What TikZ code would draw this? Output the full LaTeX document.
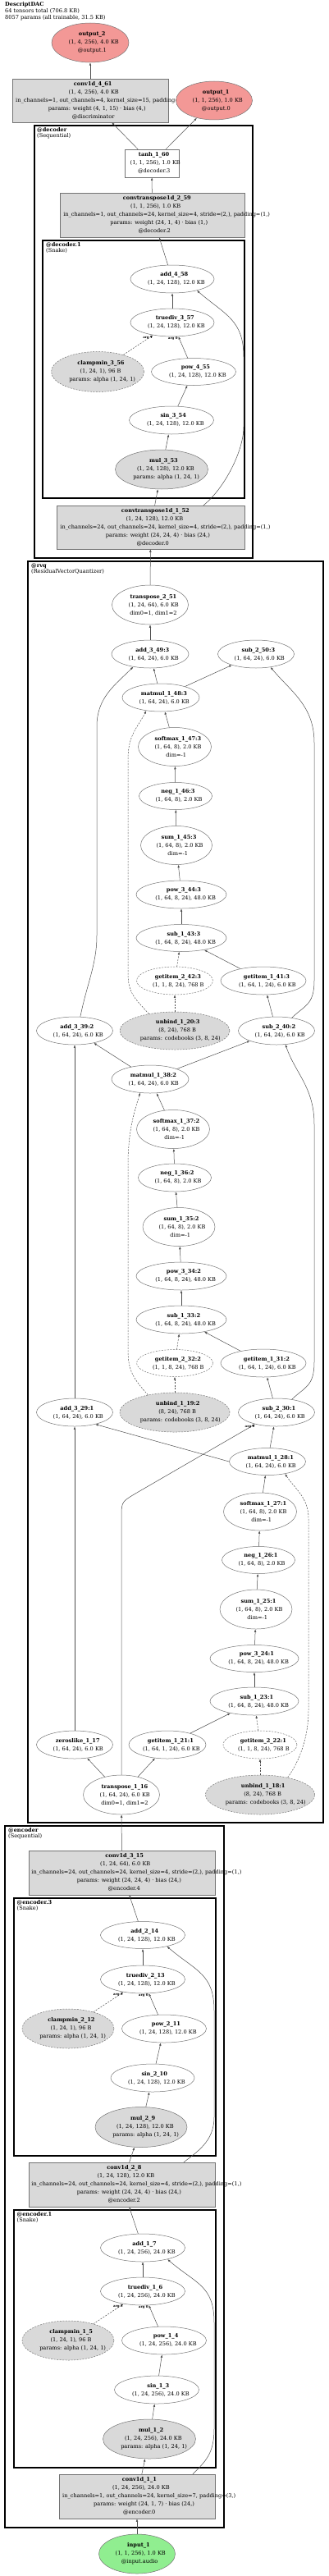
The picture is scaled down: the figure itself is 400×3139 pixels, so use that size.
\documentclass[tikz,border=0pt]{standalone}
\usepackage{fontspec}
\setmainfont{DejaVu Serif}
\usetikzlibrary{shapes.geometric,arrows.meta}
\definecolor{outred}{RGB}{243,152,150}
\definecolor{ingreen}{RGB}{144,238,144}
\definecolor{pargray}{RGB}{217,217,217}
\newcommand{\gl}[1]{\makebox[0.86\width][l]{#1}}
\newcommand{\ttl}[1]{\gl{\textbf{#1}}}
\tikzset{wh/.style 2 args={minimum width=#1,minimum height=#2}}

\begin{document}
\begin{tikzpicture}[x=1pt,y=-1pt]
\tikzstyle{opnode}=[ellipse,draw=black!55,line width=0.5pt,fill=white,inner sep=0pt,align=center,font=\fontsize{6.6}{10}\selectfont]
\tikzstyle{parnode}=[opnode,fill=pargray]
\tikzstyle{dashnode}=[dash pattern=on 2pt off 1.5pt]
\tikzstyle{boxnode}=[rectangle,draw=black!55,line width=0.5pt,fill=pargray,inner sep=0pt,align=center,font=\fontsize{6.6}{10}\selectfont]
\tikzstyle{outnode}=[opnode,fill=outred]
\tikzstyle{innode}=[opnode,fill=ingreen]
\tikzstyle{frame}=[line width=2.5pt]
\tikzstyle{subframe}=[line width=1.6pt]
\tikzstyle{framelbl}=[anchor=north west,inner sep=0pt,align=left,font=\fontsize{6.6}{7}\selectfont]
\tikzstyle{conn}=[draw=black!70,line width=0.5pt,-{Latex[length=3.5pt,width=2.6pt]}]
\tikzstyle{dconn}=[conn,dash pattern=on 2pt off 1.5pt]
\tikzstyle{argl}=[font=\fontsize{4}{4}\selectfont\bfseries,inner sep=0.5pt,anchor=north east]

\useasboundingbox (0,0) rectangle (400,3139);

\node[anchor=north west,inner sep=0pt,align=left,font=\fontsize{6.6}{7.8}\selectfont] (title) at (6,2.5) {\textbf{DescriptDAC}\\64 tensors total (706.8 KB)\\8057 params (all trainable, 31.5 KB)};

% clusters
\draw[frame] (42,153) rectangle (308,680);
\node[framelbl] (lbldec) at (45,155) {\textbf{@decoder}\\(Sequential)};
\draw[subframe] (52,293) rectangle (298,607);
\node[framelbl] (lbldec1) at (56,295) {\textbf{@decoder.1}\\(Snake)};
\draw[frame] (34,684) rectangle (394,2221);
\node[framelbl] (lblrvq) at (38,686.5) {\textbf{@rvq}\\(ResidualVectorQuantizer)};
\draw[frame] (6,2225) rectangle (273,3080);
\node[framelbl] (lblenc) at (10,2227.5) {\textbf{@encoder}\\(Sequential)};
\draw[subframe] (17,2313) rectangle (263,2627);
\node[framelbl] (lblenc3) at (20.5,2315) {\textbf{@encoder.3}\\(Snake)};
\draw[subframe] (17,2693) rectangle (263,3007);
\node[framelbl] (lblenc1) at (20.5,2695) {\textbf{@encoder.1}\\(Snake)};

% decoder
\node[outnode,wh={94}{48}] (out2) at (110,52) {\ttl{output\_2}\\\gl{(1, 4, 256), 4.0 KB}\\\gl{@output.1}};
\node[boxnode,wh={190}{53}] (conv461) at (110,122.5) {\ttl{conv1d\_4\_61}\\\gl{(1, 4, 256), 4.0 KB}\\\gl{in\_channels=1, out\_channels=4, kernel\_size=15, padding=(7,)}\\\gl{params: weight (4, 1, 15) · bias (4,)}\\\gl{@discriminator}};
\node[outnode,wh={93}{47}] (out1) at (261,122.5) {\ttl{output\_1}\\\gl{(1, 1, 256), 1.0 KB}\\\gl{@output.0}};
\node[boxnode,fill=white,wh={66}{34}] (tanh160) at (185,199) {\ttl{tanh\_1\_60}\\\gl{(1, 1, 256), 1.0 KB}\\\gl{@decoder.3}};
\node[boxnode,wh={225}{54}] (ct259) at (185.5,262) {\ttl{convtranspose1d\_2\_59}\\\gl{(1, 1, 256), 1.0 KB}\\\gl{in\_channels=1, out\_channels=24, kernel\_size=4, stride=(2,), padding=(1,)}\\\gl{params: weight (24, 1, 4) · bias (1,)}\\\gl{@decoder.2}};
\node[opnode,wh={102}{34}] (add458) at (210,340) {\ttl{add\_4\_58}\\\gl{(1, 24, 128), 12.0 KB}};
\node[opnode,wh={102}{34}] (truediv357) at (210,393) {\ttl{truediv\_3\_57}\\\gl{(1, 24, 128), 12.0 KB}};
\node[parnode,dashnode,wh={113}{49}] (clampmin356) at (119,453) {\ttl{clampmin\_3\_56}\\\gl{(1, 24, 1), 96 B}\\\gl{params: alpha (1, 24, 1)}};
\node[opnode,wh={103}{33}] (pow455) at (236,453) {\ttl{pow\_4\_55}\\\gl{(1, 24, 128), 12.0 KB}};
\node[opnode,wh={103}{34}] (sin354) at (209,512) {\ttl{sin\_3\_54}\\\gl{(1, 24, 128), 12.0 KB}};
\node[parnode,wh={113}{48}] (mul353) at (197,572) {\ttl{mul\_3\_53}\\\gl{(1, 24, 128), 12.0 KB}\\\gl{params: alpha (1, 24, 1)}};
\node[boxnode,wh={229}{53}] (ct152) at (183.5,642.5) {\ttl{convtranspose1d\_1\_52}\\\gl{(1, 24, 128), 12.0 KB}\\\gl{in\_channels=24, out\_channels=24, kernel\_size=4, stride=(2,), padding=(1,)}\\\gl{params: weight (24, 24, 4) · bias (24,)}\\\gl{@decoder.0}};

% rvq
\node[opnode,wh={93}{48}] (transpose251) at (183,737) {\ttl{transpose\_2\_51}\\\gl{(1, 24, 64), 6.0 KB}\\\gl{dim0=1, dim1=2}};
\node[opnode,wh={94}{34}] (add349) at (183,797) {\ttl{add\_3\_49:3}\\\gl{(1, 64, 24), 6.0 KB}};
\node[opnode,wh={93}{34}] (sub250) at (312,797) {\ttl{sub\_2\_50:3}\\\gl{(1, 64, 24), 6.0 KB}};
\node[opnode,wh={94}{34}] (matmul348) at (196,850) {\ttl{matmul\_1\_48:3}\\\gl{(1, 64, 24), 6.0 KB}};
\node[opnode,wh={89}{47}] (softmax347) at (213,910) {\ttl{softmax\_1\_47:3}\\\gl{(1, 64, 8), 2.0 KB}\\\gl{dim=-1}};
\node[opnode,wh={89}{33}] (neg346) at (214,970) {\ttl{neg\_1\_46:3}\\\gl{(1, 64, 8), 2.0 KB}};
\node[opnode,wh={87}{47}] (sum345) at (215,1030) {\ttl{sum\_1\_45:3}\\\gl{(1, 64, 8), 2.0 KB}\\\gl{dim=-1}};
\node[opnode,wh={110}{34}] (pow344) at (221,1090) {\ttl{pow\_3\_44:3}\\\gl{(1, 64, 8, 24), 48.0 KB}};
\node[opnode,wh={110}{33}] (sub143) at (221,1143) {\ttl{sub\_1\_43:3}\\\gl{(1, 64, 8, 24), 48.0 KB}};
\node[opnode,dashnode,wh={93}{34}] (getitem242) at (213,1195) {\ttl{getitem\_2\_42:3}\\\gl{(1, 1, 8, 24), 768 B}};
\node[opnode,wh={104}{34}] (getitem141) at (321,1195) {\ttl{getitem\_1\_41:3}\\\gl{(1, 64, 1, 24), 6.0 KB}};
\node[opnode,wh={93}{34}] (add339) at (91,1256) {\ttl{add\_3\_39:2}\\\gl{(1, 64, 24), 6.0 KB}};
\node[parnode,dashnode,wh={134}{46}] (unbind120) at (213,1256) {\ttl{unbind\_1\_20:3}\\\gl{(8, 24), 768 B}\\\gl{params: codebooks (3, 8, 24)}};
\node[opnode,wh={93}{34}] (sub240) at (337,1256) {\ttl{sub\_2\_40:2}\\\gl{(1, 64, 24), 6.0 KB}};
\node[opnode,wh={94}{34}] (matmul138) at (183,1315) {\ttl{matmul\_1\_38:2}\\\gl{(1, 64, 24), 6.0 KB}};
\node[opnode,wh={89}{47}] (softmax137) at (211,1376) {\ttl{softmax\_1\_37:2}\\\gl{(1, 64, 8), 2.0 KB}\\\gl{dim=-1}};
\node[opnode,wh={89}{34}] (neg136) at (213,1435) {\ttl{neg\_1\_36:2}\\\gl{(1, 64, 8), 2.0 KB}};
\node[opnode,wh={88}{47}] (sum135) at (218,1495) {\ttl{sum\_1\_35:2}\\\gl{(1, 64, 8), 2.0 KB}\\\gl{dim=-1}};
\node[opnode,wh={110}{34}] (pow334) at (221,1555) {\ttl{pow\_3\_34:2}\\\gl{(1, 64, 8, 24), 48.0 KB}};
\node[opnode,wh={110}{34}] (sub133) at (221,1608) {\ttl{sub\_1\_33:2}\\\gl{(1, 64, 8, 24), 48.0 KB}};
\node[opnode,dashnode,wh={93}{33}] (getitem232) at (213,1661) {\ttl{getitem\_2\_32:2}\\\gl{(1, 1, 8, 24), 768 B}};
\node[opnode,wh={104}{34}] (getitem131) at (321,1661) {\ttl{getitem\_1\_31:2}\\\gl{(1, 64, 1, 24), 6.0 KB}};
\node[opnode,wh={93}{34}] (add329) at (91,1721) {\ttl{add\_3\_29:1}\\\gl{(1, 64, 24), 6.0 KB}};
\node[parnode,dashnode,wh={134}{48}] (unbind119) at (213,1721) {\ttl{unbind\_1\_19:2}\\\gl{(8, 24), 768 B}\\\gl{params: codebooks (3, 8, 24)}};
\node[opnode,wh={93}{34}] (sub230) at (337,1721) {\ttl{sub\_2\_30:1}\\\gl{(1, 64, 24), 6.0 KB}};
\node[opnode,wh={93}{33}] (matmul128) at (326,1781) {\ttl{matmul\_1\_28:1}\\\gl{(1, 64, 24), 6.0 KB}};
\node[opnode,wh={89}{46}] (softmax127) at (317,1842) {\ttl{softmax\_1\_27:1}\\\gl{(1, 64, 8), 2.0 KB}\\\gl{dim=-1}};
\node[opnode,wh={89}{33}] (neg126) at (315,1901) {\ttl{neg\_1\_26:1}\\\gl{(1, 64, 8), 2.0 KB}};
\node[opnode,wh={88}{48}] (sum125) at (312,1961) {\ttl{sum\_1\_25:1}\\\gl{(1, 64, 8), 2.0 KB}\\\gl{dim=-1}};
\node[opnode,wh={108}{33}] (pow324) at (310,2021) {\ttl{pow\_3\_24:1}\\\gl{(1, 64, 8, 24), 48.0 KB}};
\node[opnode,wh={108}{34}] (sub123) at (310,2073) {\ttl{sub\_1\_23:1}\\\gl{(1, 64, 8, 24), 48.0 KB}};
\node[opnode,wh={93}{34}] (zeros117) at (91,2126) {\ttl{zeroslike\_1\_17}\\\gl{(1, 64, 24), 6.0 KB}};
\node[opnode,wh={94}{34}] (getitem121) at (204,2126) {\ttl{getitem\_1\_21:1}\\\gl{(1, 64, 1, 24), 6.0 KB}};
\node[opnode,dashnode,wh={90}{34}] (getitem222) at (317,2126) {\ttl{getitem\_2\_22:1}\\\gl{(1, 1, 8, 24), 768 B}};
\node[opnode,wh={93}{48}] (transpose116) at (148,2187) {\ttl{transpose\_1\_16}\\\gl{(1, 64, 24), 6.0 KB}\\\gl{dim0=1, dim1=2}};
\node[parnode,dashnode,wh={133}{48}] (unbind118) at (317,2187) {\ttl{unbind\_1\_18:1}\\\gl{(8, 24), 768 B}\\\gl{params: codebooks (3, 8, 24)}};

% encoder
\node[boxnode,wh={227}{54}] (conv315) at (148.5,2282) {\ttl{conv1d\_3\_15}\\\gl{(1, 24, 64), 6.0 KB}\\\gl{in\_channels=24, out\_channels=24, kernel\_size=4, stride=(2,), padding=(1,)}\\\gl{params: weight (24, 24, 4) · bias (24,)}\\\gl{@encoder.4}};
\node[opnode,wh={103}{33}] (add214) at (174,2358) {\ttl{add\_2\_14}\\\gl{(1, 24, 128), 12.0 KB}};
\node[opnode,wh={103}{34}] (truediv213) at (174,2412) {\ttl{truediv\_2\_13}\\\gl{(1, 24, 128), 12.0 KB}};
\node[parnode,dashnode,wh={112}{48}] (clampmin212) at (83,2472) {\ttl{clampmin\_2\_12}\\\gl{(1, 24, 1), 96 B}\\\gl{params: alpha (1, 24, 1)}};
\node[opnode,wh={103}{34}] (pow211) at (200,2472) {\ttl{pow\_2\_11}\\\gl{(1, 24, 128), 12.0 KB}};
\node[opnode,wh={102}{34}] (sin210) at (186,2532) {\ttl{sin\_2\_10}\\\gl{(1, 24, 128), 12.0 KB}};
\node[parnode,wh={112}{49}] (mul29) at (172,2592) {\ttl{mul\_2\_9}\\\gl{(1, 24, 128), 12.0 KB}\\\gl{params: alpha (1, 24, 1)}};
\node[boxnode,wh={227}{54}] (conv28) at (148.5,2662) {\ttl{conv1d\_2\_8}\\\gl{(1, 24, 128), 12.0 KB}\\\gl{in\_channels=24, out\_channels=24, kernel\_size=4, stride=(2,), padding=(1,)}\\\gl{params: weight (24, 24, 4) · bias (24,)}\\\gl{@encoder.2}};
\node[opnode,wh={103}{34}] (add17) at (174,2739) {\ttl{add\_1\_7}\\\gl{(1, 24, 256), 24.0 KB}};
\node[opnode,wh={103}{34}] (truediv16) at (174,2792) {\ttl{truediv\_1\_6}\\\gl{(1, 24, 256), 24.0 KB}};
\node[parnode,dashnode,wh={112}{48}] (clampmin15) at (83,2852) {\ttl{clampmin\_1\_5}\\\gl{(1, 24, 1), 96 B}\\\gl{params: alpha (1, 24, 1)}};
\node[opnode,wh={103}{34}] (pow14) at (200,2852) {\ttl{pow\_1\_4}\\\gl{(1, 24, 256), 24.0 KB}};
\node[opnode,wh={103}{34}] (sin13) at (191,2912) {\ttl{sin\_1\_3}\\\gl{(1, 24, 256), 24.0 KB}};
\node[parnode,wh={113}{48}] (mul12) at (182,2972) {\ttl{mul\_1\_2}\\\gl{(1, 24, 256), 24.0 KB}\\\gl{params: alpha (1, 24, 1)}};
\node[boxnode,wh={190}{54}] (conv11) at (167,3042) {\ttl{conv1d\_1\_1}\\\gl{(1, 24, 256), 24.0 KB}\\\gl{in\_channels=1, out\_channels=24, kernel\_size=7, padding=(3,)}\\\gl{params: weight (24, 1, 7) · bias (24,)}\\\gl{@encoder.0}};
\node[innode,wh={93}{48}] (input1) at (167,3112) {\ttl{input\_1}\\\gl{(1, 1, 256), 1.0 KB}\\\gl{@input.audio}};

% decoder edges
\draw[conn] (conv461) -- (out2);
\draw[conn] (tanh160) -- (conv461);
\draw[conn] (tanh160) -- (out1);
\draw[conn] (ct259) -- (tanh160);
\draw[conn] (add458) -- (ct259);
\draw[conn] (truediv357) -- (add458);
\draw[dconn] (clampmin356) -- (truediv357) node[argl,pos=1] {arg 1};
\draw[conn] (pow455) -- (truediv357) node[argl,pos=1] {arg 0};
\draw[conn] (sin354) -- (pow455);
\draw[conn] (mul353) -- (sin354);
\draw[conn] (ct152) -- (mul353);
\draw[conn] ([xshift=64.5pt]ct152.north) .. controls +(25,-20) and +(0,30) .. (297,520) -- (297,435) .. controls +(0,-45) and +(35,30) .. (add458.-25);

% rvq edges
\draw[conn] (transpose251) -- (ct152);
\draw[conn] (add349) -- (transpose251);
\draw[conn] (matmul348) -- (add349);
\draw[conn] (matmul348) -- (sub250);
\draw[conn] (softmax347) -- (matmul348);
\draw[conn] (neg346) -- (softmax347);
\draw[conn] (sum345) -- (neg346);
\draw[conn] (pow344) -- (sum345);
\draw[conn] (sub143) -- (pow344);
\draw[dconn] (getitem242) -- (sub143);
\draw[conn] (getitem141) -- (sub143);
\draw[dconn] (unbind120) -- (getitem242);
\draw[conn] (sub240) -- (getitem141);
\draw[dconn] (unbind120.147) .. controls +(-18,-20) and +(0,25) .. (156,1185) -- (156,925) .. controls +(0,-30) and +(-10,20) .. (matmul348.222);
\draw[conn] (add339.68) .. controls +(8,-40) and +(0,35) .. (118,1140) -- (118,885) .. controls +(0,-35) and +(-22,22) .. (add349.217);
\draw[conn] (sub240.40) .. controls +(15,-15) and +(0,30) .. (383,1195) -- (383,905) .. controls +(0,-45) and +(25,30) .. (sub250.-42);
\draw[conn] (matmul138) -- (add339);
\draw[conn] (matmul138) -- (sub240);
\draw[conn] (softmax137) -- (matmul138);
\draw[conn] (neg136) -- (softmax137);
\draw[conn] (sum135) -- (neg136);
\draw[conn] (pow334) -- (sum135);
\draw[conn] (sub133) -- (pow334);
\draw[dconn] (getitem232) -- (sub133);
\draw[conn] (getitem131) -- (sub133);
\draw[dconn] (unbind119) -- (getitem232);
\draw[conn] (sub230) -- (getitem131);
\draw[conn] (add329) -- (add339);
\draw[dconn] (unbind119.147) .. controls +(-18,-20) and +(0,25) .. (156,1645) -- (156,1420) .. controls +(0,-40) and +(-8,25) .. (matmul138.234);
\draw[conn] (sub230.40) .. controls +(15,-15) and +(0,30) .. (383,1660) -- (383,1370) .. controls +(0,-45) and +(12,35) .. (sub240.-57);
\draw[conn] (matmul128) -- (sub230);
\draw[conn] (matmul128.west) -- (add329.-30);
\draw[conn] (softmax127) -- (matmul128);
\draw[conn] (neg126) -- (softmax127);
\draw[conn] (sum125) -- (neg126);
\draw[conn] (pow324) -- (sum125);
\draw[conn] (sub123) -- (pow324);
\draw[conn] (getitem121) -- (sub123);
\draw[dconn] (getitem222) -- (sub123);
\draw[dconn] (unbind118) -- (getitem222);
\draw[dconn] (unbind118.32) .. controls +(15,-20) and +(0,30) .. (376,2085) -- (376,1850) .. controls +(0,-25) and +(12,18) .. (matmul128.-35);
\draw[conn] (zeros117) -- (add329);
\draw[conn] (transpose116) -- (zeros117);
\draw[conn] (transpose116) -- (getitem121);
\draw[conn] (transpose116.north) -- (148,1845) .. controls +(0,-15) and +(-15,9) .. (165,1820) -- (sub230.209) node[argl,pos=1] {arg 0};

% encoder edges
\draw[conn] (conv315) -- (transpose116);
\draw[conn] (add214) -- (conv315);
\draw[conn] (truediv213) -- (add214);
\draw[dconn] (clampmin212) -- (truediv213) node[argl,pos=1] {arg 1};
\draw[conn] (pow211) -- (truediv213) node[argl,pos=1] {arg 0};
\draw[conn] (sin210) -- (pow211);
\draw[conn] (mul29) -- (sin210);
\draw[conn] (conv28) -- (mul29);
\draw[conn] ([xshift=75.5pt]conv28.north) .. controls +(15,-12) and +(0,30) .. (261,2580) -- (261,2450) .. controls +(0,-45) and +(35,30) .. (add214.-25);
\draw[conn] (add17) -- (conv28);
\draw[conn] (truediv16) -- (add17);
\draw[dconn] (clampmin15) -- (truediv16) node[argl,pos=1] {arg 1};
\draw[conn] (pow14) -- (truediv16) node[argl,pos=1] {arg 0};
\draw[conn] (sin13) -- (pow14);
\draw[conn] (mul12) -- (sin13);
\draw[conn] (conv11) -- (mul12);
\draw[conn] ([xshift=68pt]conv11.north) .. controls +(15,-15) and +(0,30) .. (261,2960) -- (261,2830) .. controls +(0,-45) and +(35,30) .. (add17.-25);
\draw[conn] (input1) -- (conv11);

\end{tikzpicture}
\end{document}
